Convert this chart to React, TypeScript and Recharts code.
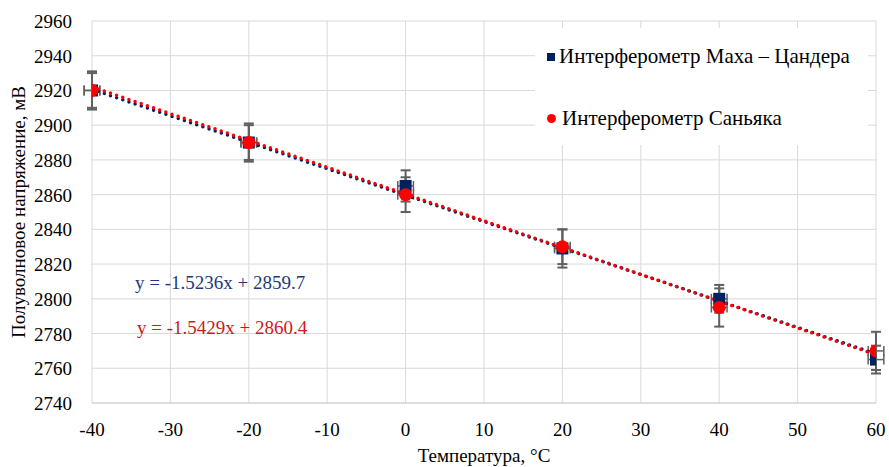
import React from 'react';
import {
  ComposedChart, Scatter, ErrorBar, XAxis, YAxis, CartesianGrid, Legend, Customized,
} from 'recharts';

const temps = [-40, -20, 0, 20, 40, 60];
const mzVoltage = [2920, 2890, 2865, 2829, 2800, 2765];
const mzErr = [11, 11, 9, 11, 8, 8];
const sagVoltage = [2920, 2890, 2860, 2830, 2795, 2770];
const sagErr = [10, 10, 10, 10, 11, 11];
const tempErr = [1, 1, 1, 1, 1, 1];

const trendX = [-40, 60];
const mzTrend = [2920.6, 2768.3];
const sagTrend = [2922.1, 2767.8];

const xTicks = [-40, -30, -20, -10, 0, 10, 20, 30, 40, 50, 60];
const yTicks = [2740, 2760, 2780, 2800, 2820, 2840, 2860, 2880, 2900, 2920, 2940, 2960];

const MZ_NAME = 'Интерферометр Маха – Цандера';
const SAG_NAME = 'Интерферометр Саньяка';
const MZ_EQ = 'y = -1.5236x + 2859.7';
const SAG_EQ = 'y = -1.5429x + 2860.4';

const FONT = "'Liberation Serif', 'Times New Roman', serif";
const BLUE = '#002060';
const RED = '#FF0000';
const ERR = '#5f5f5f';

const mzData = temps.map((t, i) => ({ x: t, y: mzVoltage[i], ex: tempErr[i], ey: mzErr[i] }));
const sagData = temps.map((t, i) => ({ x: t, y: sagVoltage[i], ex: tempErr[i], ey: sagErr[i] }));
const mzTrendData = trendX.map((t, i) => ({ x: t, y: mzTrend[i] }));
const sagTrendData = trendX.map((t, i) => ({ x: t, y: sagTrend[i] }));

const Square = (props: any) => (
  <rect x={props.cx - 6} y={props.cy - 6} width={12} height={12} fill={BLUE} />
);
const Dot = (props: any) => <circle cx={props.cx} cy={props.cy} r={6.5} fill={RED} />;
const NoShape = () => null;

function XTick(p: any) {
  return (
    <g transform={`translate(${p.x},${p.y})`}>
      <text x={0} y={0} dy={14} textAnchor="middle" fill="#000" fontSize={19} fontFamily="Liberation Serif">
        {String(p.payload.value)}
      </text>
    </g>
  );
}
function YTick(p: any) {
  return (
    <g transform={`translate(${p.x},${p.y})`}>
      <text x={0} y={0} dy={7} textAnchor="end" fill="#000" fontSize={19} fontFamily="Liberation Serif">
        {String(p.payload.value)}
      </text>
    </g>
  );
}

const LegendBox = () => (
  <div style={{ width: 333, height: 117, background: '#fff', fontFamily: FONT, fontSize: 21, color: '#000' }}>
    <div style={{ position: 'absolute', left: 12, top: 16, display: 'flex', alignItems: 'center' }}>
      <span style={{ width: 8, height: 8, background: BLUE, display: 'inline-block', marginRight: 4 }} />
      {MZ_NAME}
    </div>
    <div style={{ position: 'absolute', left: 12, top: 78, display: 'flex', alignItems: 'center' }}>
      <span style={{ width: 9, height: 9, borderRadius: '50%', background: RED, display: 'inline-block', marginRight: 6 }} />
      {SAG_NAME}
    </div>
  </div>
);

const Equations = () => (
  <g style={{ fontFamily: FONT, fontSize: 19 }}>
    <text x={135} y={289} fill="#1F3A7A">{MZ_EQ}</text>
    <text x={137} y={334} fill="#D01818">{SAG_EQ}</text>
  </g>
);

export default function App() {
  return (
    <div style={{ position: 'absolute', left: 0, top: 0, width: 889, height: 467, background: '#fff', fontFamily: FONT }}>
      <ComposedChart
        width={889}
        height={467}
        margin={{ top: 21, right: 13, bottom: 0, left: 0 }}
        style={{ fontFamily: FONT }}
      >
        <CartesianGrid stroke="#d9d9d9" strokeWidth={1} />
        <XAxis
          type="number"
          dataKey="x"
          domain={[-40, 60]}
          ticks={xTicks}
          allowDataOverflow
          tickLine={false}
          axisLine={{ stroke: '#cfcfcf' }}
          tickMargin={13}
          height={64}
          tick={<XTick />}
          label={{ value: 'Температура, °C', position: 'insideBottom', offset: 5, fill: '#000', fontSize: 19, fontFamily: FONT }}
        />
        <YAxis
          type="number"
          dataKey="y"
          domain={[2740, 2960]}
          ticks={yTicks}
          allowDataOverflow
          tickLine={false}
          axisLine={false}
          tickMargin={14}
          width={92}
          tick={<YTick />}
          label={{ value: 'Полуволновое напряжение, мВ', angle: -90, position: 'insideLeft', offset: 18, fill: '#000', fontSize: 19, fontFamily: FONT, style: { textAnchor: 'middle' } }}
        />
        <Scatter data={mzTrendData} line={{ stroke: BLUE, strokeWidth: 3.5, strokeDasharray: '0 6.5', strokeLinecap: 'round' }} shape={NoShape} isAnimationActive={false} legendType="none" />
        <Scatter data={sagTrendData} line={{ stroke: RED, strokeWidth: 3.5, strokeDasharray: '0 6.5', strokeLinecap: 'round' }} shape={NoShape} isAnimationActive={false} legendType="none" />
        <Scatter name={MZ_NAME} data={mzData} shape={Square} isAnimationActive={false}>
          <ErrorBar dataKey="ey" direction="y" width={5} stroke={ERR} strokeWidth={2} />
          <ErrorBar dataKey="ex" direction="x" width={5} stroke={ERR} strokeWidth={1.5} />
        </Scatter>
        <Scatter name={SAG_NAME} data={sagData} shape={Dot} isAnimationActive={false}>
          <ErrorBar dataKey="ey" direction="y" width={5} stroke={ERR} strokeWidth={2} />
          <ErrorBar dataKey="ex" direction="x" width={5} stroke={ERR} strokeWidth={1.5} />
        </Scatter>
        <Customized component={Equations} />
        <Legend
          verticalAlign="middle"
          content={LegendBox}
          wrapperStyle={{ position: 'absolute', left: 535, top: 28, width: 333, height: 117 }}
        />
      </ComposedChart>
    </div>
  );
}
